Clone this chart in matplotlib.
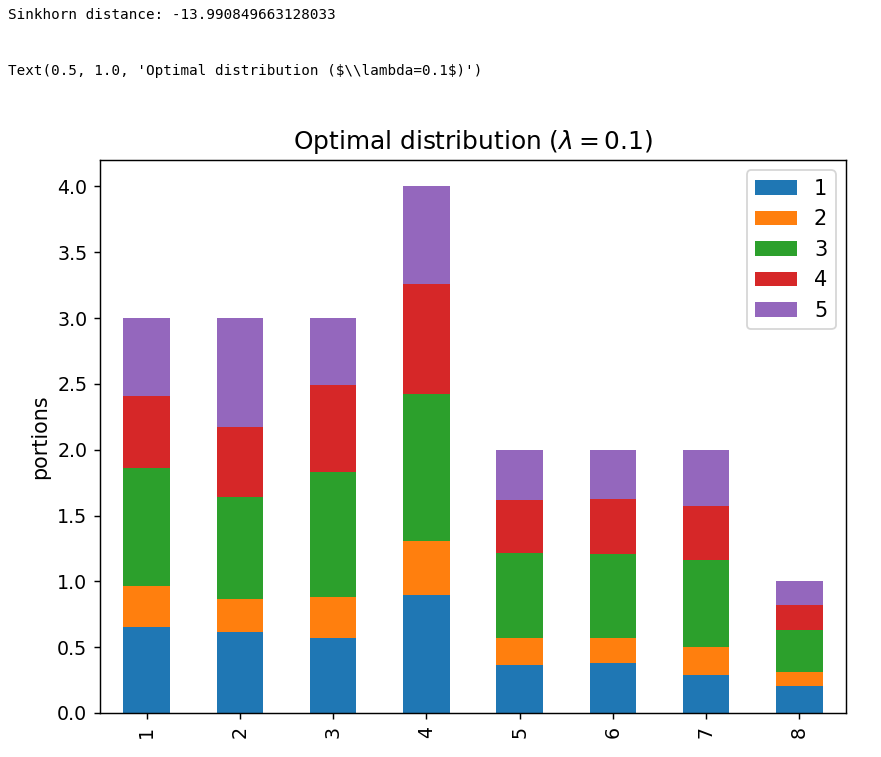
import matplotlib
matplotlib.use("Agg")
import matplotlib.pyplot as plt
import pandas as pd

# ── data ──────────────────────────────────────────────────────────────────────
bins = ["1", "2", "3", "4", "5", "6", "7", "8"]
s1 = [0.650, 0.616, 0.573, 0.899, 0.366, 0.376, 0.285, 0.207]
s2 = [0.318, 0.252, 0.305, 0.409, 0.205, 0.195, 0.218, 0.104]
s3 = [0.895, 0.769, 0.955, 1.112, 0.646, 0.636, 0.659, 0.318]
s4 = [0.546, 0.533, 0.656, 0.841, 0.399, 0.419, 0.409, 0.192]
s5 = [0.591, 0.830, 0.511, 0.739, 0.384, 0.374, 0.429, 0.179]
series_names = ["1", "2", "3", "4", "5"]

df = pd.DataFrame(dict(zip(series_names, [s1, s2, s3, s4, s5])), index=bins)

# ── figure ────────────────────────────────────────────────────────────────────
fig = plt.figure(figsize=(881 / 130, 757 / 130), dpi=130)

# notebook output lines above the chart
mono = dict(family="DejaVu Sans Mono", fontsize=7.9, color="black",
            va="center", ha="left", parse_math=False)
fig.text(8 / 881, 1 - 15 / 757, "Sinkhorn distance: -13.990849663128033", **mono)
fig.text(8 / 881, 1 - 71 / 757, "Text(0.5, 1.0, 'Optimal distribution ($\\\\lambda=0.1$)')", **mono)

ax = fig.add_axes([100 / 881, 44 / 757, 746 / 881, 553 / 757])
df.plot.bar(stacked=True, ax=ax)

ax.tick_params(axis="both", labelsize=10.5)
ax.set_ylabel("portions", fontsize=11.4)
ax.set_title(r"Optimal distribution ($\lambda=0.1$)", fontsize=13.8)
ax.legend(loc="upper right", fontsize=11.6)

plt.savefig("out.png", dpi=130)
